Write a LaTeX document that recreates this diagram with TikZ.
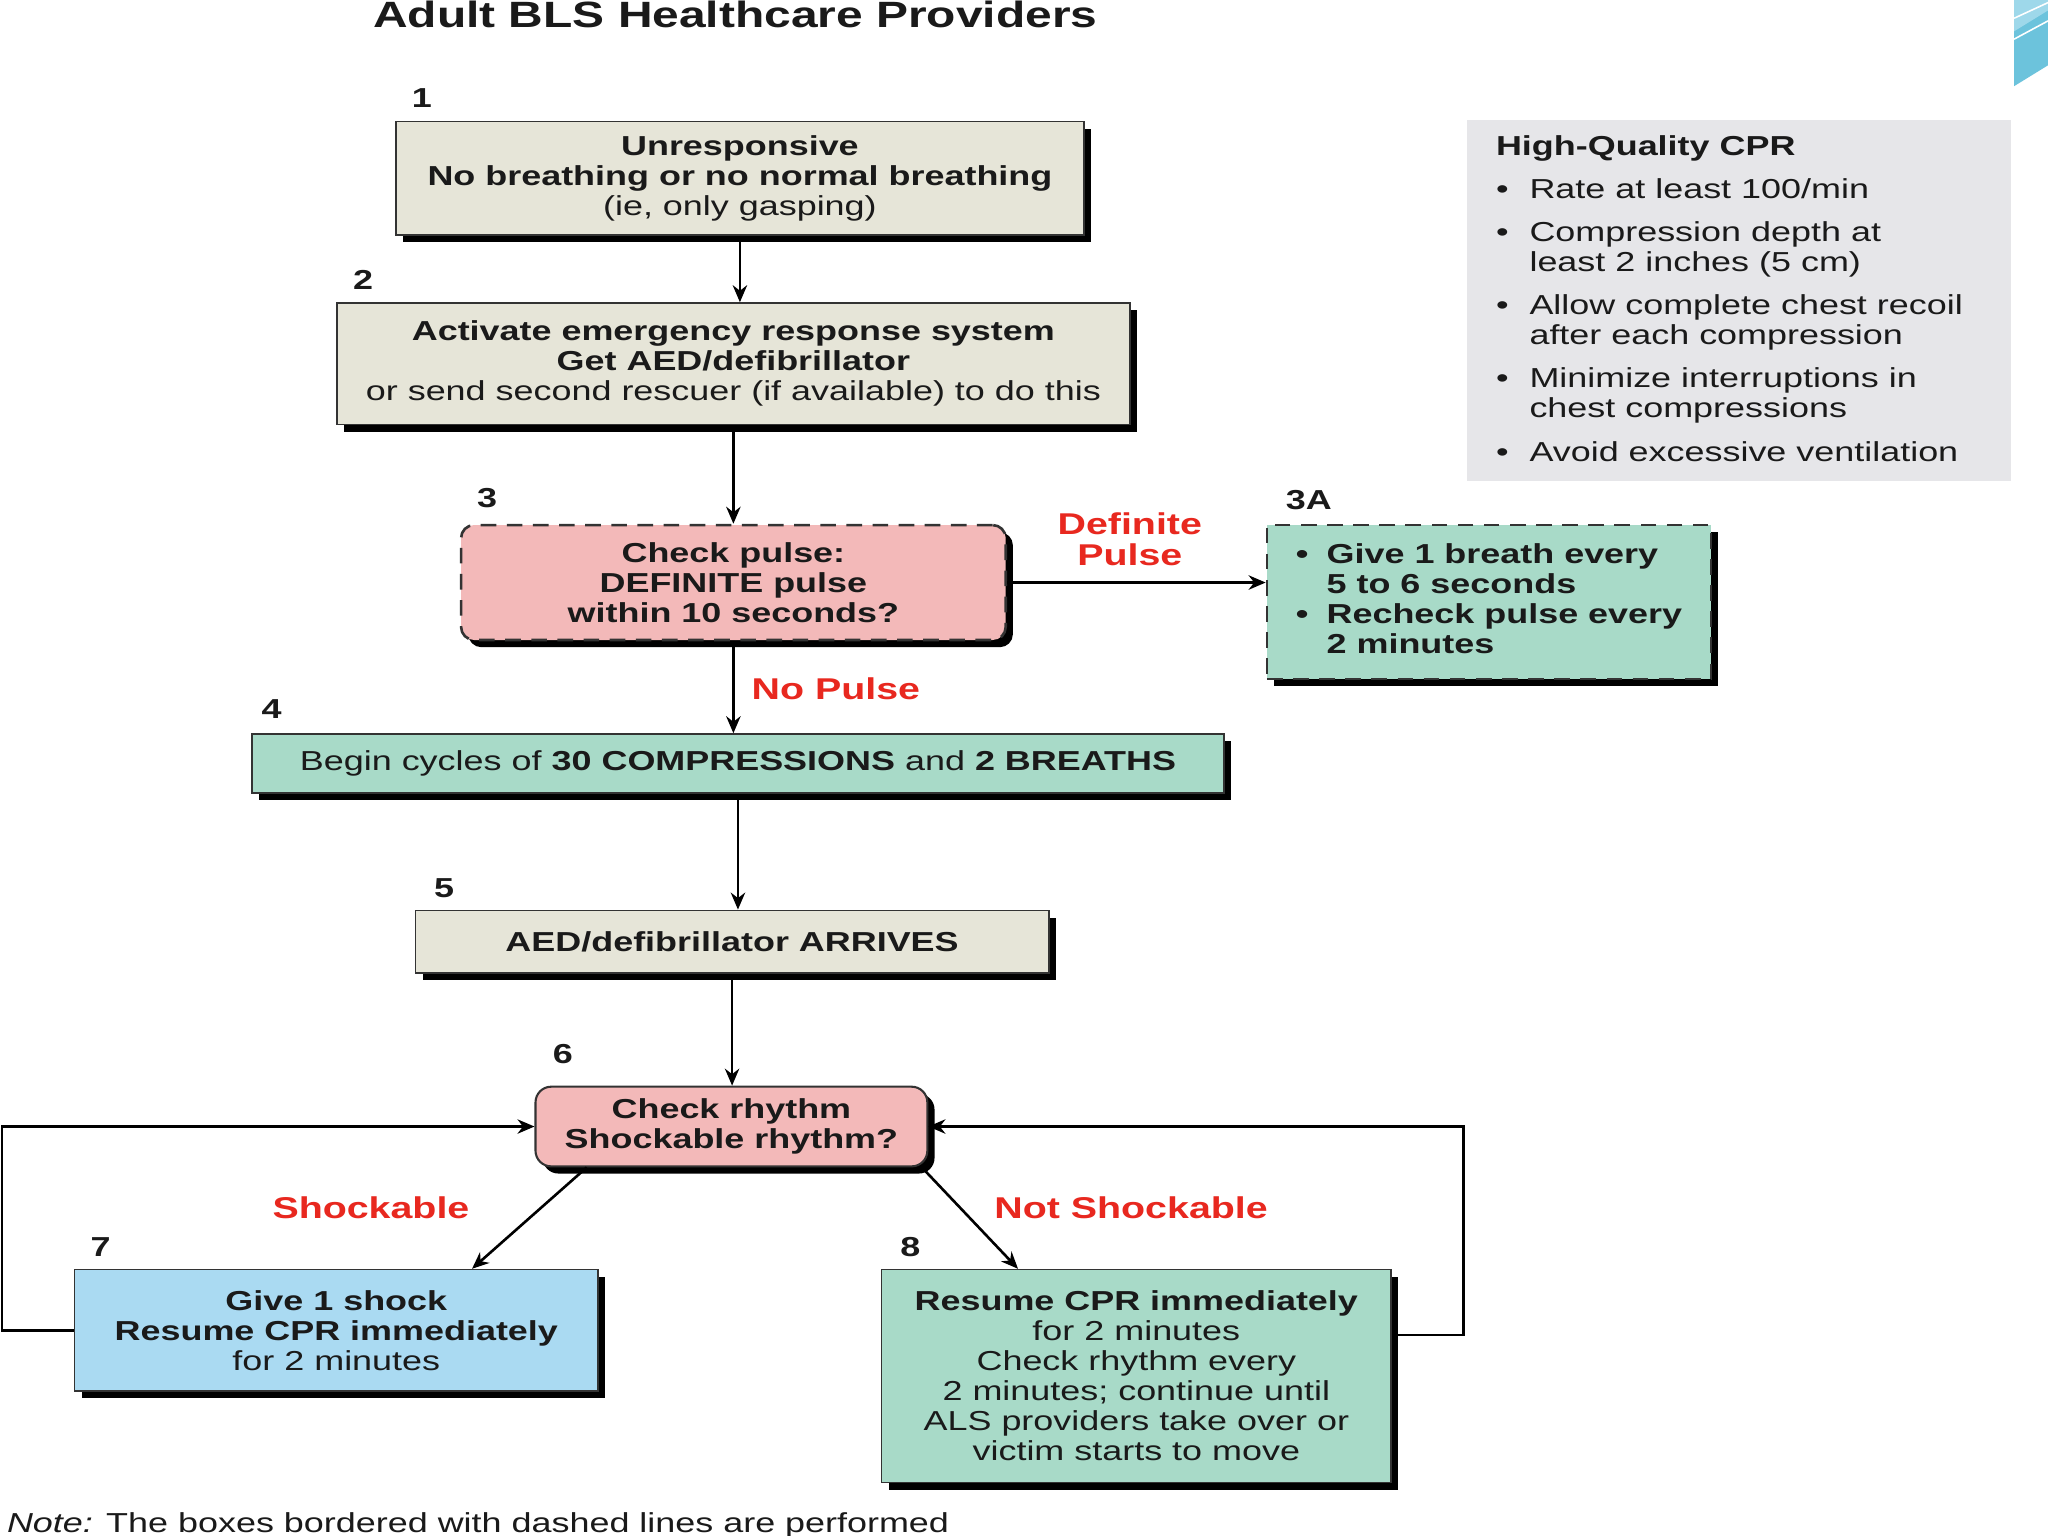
\documentclass[tikz,border=0pt]{standalone}
\usepackage{fontspec}
\setmainfont[FakeStretch=1.31]{Liberation Sans}
\usetikzlibrary{shadows,arrows.meta}
\definecolor{cbeige}{HTML}{E6E5D8}
\definecolor{cpink}{HTML}{F3B9B9}
\definecolor{cteal}{HTML}{A8DAC8}
\definecolor{cblue}{HTML}{AADAF2}
\definecolor{cpanel}{HTML}{E6E6E9}
\definecolor{cred}{HTML}{E8281F}
\definecolor{txt}{HTML}{1A1A1A}
\definecolor{boxline}{HTML}{333333}
\definecolor{deco}{HTML}{6CC3DC}
\definecolor{decolight}{HTML}{9ED8EA}
\begin{document}
\begin{tikzpicture}[x=0.5pt,y=-0.5pt,
  base/.style={font=\fontsize{10.5}{11.5}\selectfont, text=txt, align=center, inner sep=0pt},
  boxbase/.style={base, draw=boxline, line width=0.6pt,
     drop shadow={shadow xshift=2.75pt, shadow yshift=-2.75pt, fill=black, opacity=1}},
  beigebox/.style={boxbase, fill=cbeige},
  pinkbox/.style={boxbase, fill=cpink},
  tealbox/.style={boxbase, fill=cteal},
  bluebox/.style={boxbase, fill=cblue},
  dashbox/.style={line width=1pt, dash pattern=on 6pt off 4pt},
  steplbl/.style={font=\fontsize{10.5}{12}\selectfont\bfseries, text=txt, inner sep=0pt},
  redlbl/.style={font=\fontsize{11.5}{12}\selectfont\bfseries, text=cred, align=center, inner sep=0pt},
  arr/.style={-{Stealth[length=6.5pt,width=5.5pt]}, line width=1pt, draw=black},
]
\useasboundingbox (0,0) rectangle (1568,1176);
\fill[white] (0,0) rectangle (1568,1176);

% decoration top right
\fill[deco] (1542,0) -- (1568,0) -- (1568,50) -- (1542,66) -- cycle;
\fill[decolight] (1542,0) -- (1568,0) -- (1568,8) -- (1542,24) -- cycle;
\draw[white, line width=0.6pt] (1542,14) -- (1568,2);
\draw[white, line width=0.6pt] (1542,30) -- (1568,16);

% title
\node[font=\fontsize{14}{16}\selectfont\bfseries, text=txt, anchor=base, inner sep=0pt] (title) at (563,21) {Adult BLS Healthcare Providers};

% High-quality CPR panel
\node[fill=cpanel, minimum width=208.5pt, minimum height=138pt, inner sep=0pt] (cpr) at (1331.5,230) {};
\node[base, anchor=base west, align=left] (cprtext) at (1145,119) {%
\renewcommand{\arraystretch}{1}%
\begin{tabular}[t]{@{}l@{\hspace{8pt}}l@{}}
\multicolumn{2}{@{}l@{}}{\bfseries High-Quality CPR}\\[5pt]
•& Rate at least 100/min\\[5pt]
•& Compression depth at\\
 & least 2 inches (5 cm)\\[5pt]
•& Allow complete chest recoil\\
 & after each compression\\[5pt]
•& Minimize interruptions in\\
 & chest compressions\\[5pt]
•& Avoid excessive ventilation
\end{tabular}};

% boxes
\node[beigebox, minimum width=263.5pt, minimum height=43.5pt] (b1) at (566.5,136.5)
  {\bfseries Unresponsive\\\bfseries No breathing or no normal breathing\\(ie, only gasping)};
\node[beigebox, minimum width=303.5pt, minimum height=46.5pt] (b2) at (561.5,278.5)
  {\bfseries Activate emergency response system\\\bfseries Get AED/defibrillator\\or send second rescuer (if available) to do this};
\node[pinkbox, dashbox, rounded corners=5pt, minimum width=208.5pt, minimum height=44pt] (b3) at (561.5,446)
  {\bfseries Check pulse:\\\bfseries DEFINITE pulse\\\bfseries within 10 seconds?};
\node[tealbox, dashbox, minimum width=170pt, minimum height=59pt] (b3a) at (1140,461)
  {\renewcommand{\arraystretch}{1}\bfseries
   \begin{tabular}{@{}l@{\hspace{7pt}}l@{}}
   •& Give 1 breath every\\
    & 5 to 6 seconds\\
   •& Recheck pulse every\\
    & 2 minutes
   \end{tabular}};
\node[tealbox, minimum width=372pt, minimum height=22.5pt] (b4) at (565,584.5)
  {Begin cycles of \textbf{30 COMPRESSIONS} and \textbf{2 BREATHS}};
\node[beigebox, minimum width=242.5pt, minimum height=24pt] (b5) at (560.5,721)
  {\bfseries AED/defibrillator ARRIVES};
\node[pinkbox, rounded corners=6pt, line width=0.8pt, minimum width=150pt, minimum height=30.5pt] (b6) at (560,862.5)
  {\bfseries Check rhythm\\\bfseries Shockable rhythm?};
\node[bluebox, minimum width=200.5pt, minimum height=46.5pt] (b7) at (257.5,1018.5)
  {\bfseries Give 1 shock\\\bfseries Resume CPR immediately\\for 2 minutes};
\node[tealbox, minimum width=195pt, minimum height=81.5pt] (b8) at (870,1053.5)
  {\bfseries Resume CPR immediately\\for 2 minutes\\Check rhythm every\\2 minutes; continue until\\ALS providers take over or\\victim starts to move};

% step numbers
\node[steplbl] (n1) at (323,75) {1};
\node[steplbl] (n2) at (278,214) {2};
\node[steplbl] (n3) at (373,381) {3};
\node[steplbl] (n3a) at (1002,383) {3A};
\node[steplbl] (n4) at (208,543) {4};
\node[steplbl] (n5) at (340,680) {5};
\node[steplbl] (n6) at (431,807) {6};
\node[steplbl] (n7) at (77,955) {7};
\node[steplbl] (n8) at (697,955) {8};

% connectors
\draw[arr] (b1.south) -- (b1.south |- b2.north);
\draw[arr] (b2.south) -- (b2.south |- b3.north);
\draw[arr] (b3.east) -- (b3.east -| b3a.west);
\draw[arr] (b3.south) -- (b3.south |- b4.north);
\draw[arr] (b4.south) -- (b4.south |- b5.north);
\draw[arr] (b5.south) -- (b5.south |- b6.north);
\draw[arr] ([xshift=20pt]b6.south west) -- ([xshift=152.5pt]b7.north west);
\draw[arr] ([xshift=-2.5pt]b6.south east) -- ([xshift=52.5pt]b8.north west);
\draw[arr] (b7.west) -- ++(-27.5pt,0) |- (b6.west);
\draw[arr] ([yshift=15.75pt]b8.east) -- ++(27.5pt,0) |- (b6.east);

% connector labels
\node[redlbl] (l1) at (865,413) {Definite\\Pulse};
\node[redlbl] (l2) at (640,527) {No Pulse};
\node[redlbl] (l3) at (284,925) {Shockable};
\node[redlbl] (l4) at (866,925) {Not Shockable};

% note
\node[base, anchor=base west, font=\fontsize{10.5}{12}\selectfont] (note) at (5,1173)
  {\textit{Note:} The boxes bordered with dashed lines are performed};
\end{tikzpicture}
\end{document}
